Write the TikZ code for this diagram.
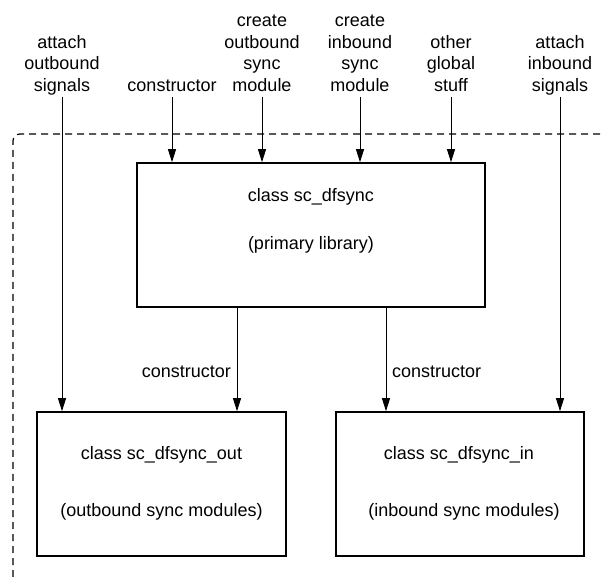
\documentclass[tikz,border=0pt]{standalone}
\usepackage{fontspec}
\setmainfont{Liberation Sans}
\usetikzlibrary{arrows.meta}
\begin{document}
\begin{tikzpicture}[x=1pt,y=-1pt,
  lab/.style={font=\fontsize{18}{21.5}\selectfont, align=center, inner sep=0pt},
  toplab/.style={lab, anchor=south, text depth=4pt},
  txt/.style={font=\fontsize{18}{21.5}\selectfont, inner sep=0pt},
  box/.style={draw=black, line width=1.6pt, minimum height=144pt, inner sep=0pt},
  arr/.style={draw=black, line width=0.9pt, -{Triangle[length=13pt,width=8pt]}},
  border/.style={draw=black, line width=1.2pt, dash pattern=on 7pt off 5pt, rounded corners=7pt}
]
\useasboundingbox (0,0) rectangle (603,577);
% dashed enclosure
\coordinate (bA) at (13,577);
\coordinate (bB) at (13,134);
\coordinate (bC) at (603,134);
\draw[border] (bA) -- (bB) -- (bC);

% boxes
\node[box, minimum width=348pt] (main) at (311,235) {};
\node[box, minimum width=249pt] (lbox) at (161.5,484) {};
\node[box, minimum width=248pt] (rbox) at (460,484) {};

% box texts
\node[txt] (mainA) at (311,197) {class sc\_dfsync};
\node[txt] (mainB) at (311,245) {(primary library)};
\node[txt] (lboxA) at (161.5,455) {class sc\_dfsync\_out};
\node[txt] (lboxB) at (161.5,512) {(outbound sync modules)};
\node[txt] (rboxA) at (459,455) {class sc\_dfsync\_in};
\node[txt] (rboxB) at (464,512) {(inbound sync modules)};

% top labels
\node[toplab] (t1) at (62,95.5) {attach\\outbound\\signals};
\node[toplab] (t2) at (172,95.5) {constructor};
\node[toplab] (t3) at (262,95.5) {create\\outbound\\sync\\module};
\node[toplab] (t4) at (360,95.5) {create\\inbound\\sync\\module};
\node[toplab] (t5) at (451,95.5) {other\\global\\stuff};
\node[toplab] (t6) at (560,95.5) {attach\\inbound\\signals};

% top arrows
\draw[arr] ([yshift=-1.5pt]t1.south) -- (lbox.north -| t1.south);
\draw[arr] ([yshift=-1.5pt]t2.south) -- (main.north -| t2.south);
\draw[arr] ([yshift=-1.5pt]t3.south) -- (main.north -| t3.south);
\draw[arr] ([yshift=-1.5pt]t4.south) -- (main.north -| t4.south);
\draw[arr] ([yshift=-1.5pt]t5.south) -- (main.north -| t5.south);
\draw[arr] ([yshift=-1.5pt]t6.south) -- (rbox.north -| t6.south);

% constructor arrows between boxes
\coordinate (cL) at (237,0);
\coordinate (cR) at (386,0);
\draw[arr] (main.south -| cL) -- (lbox.north -| cL);
\draw[arr] (main.south -| cR) -- (rbox.north -| cR);
\node[txt, anchor=base east] (cLlab) at (231,378) {constructor};
\node[txt, anchor=base west] (cRlab) at (392,378) {constructor};
\end{tikzpicture}
\end{document}
